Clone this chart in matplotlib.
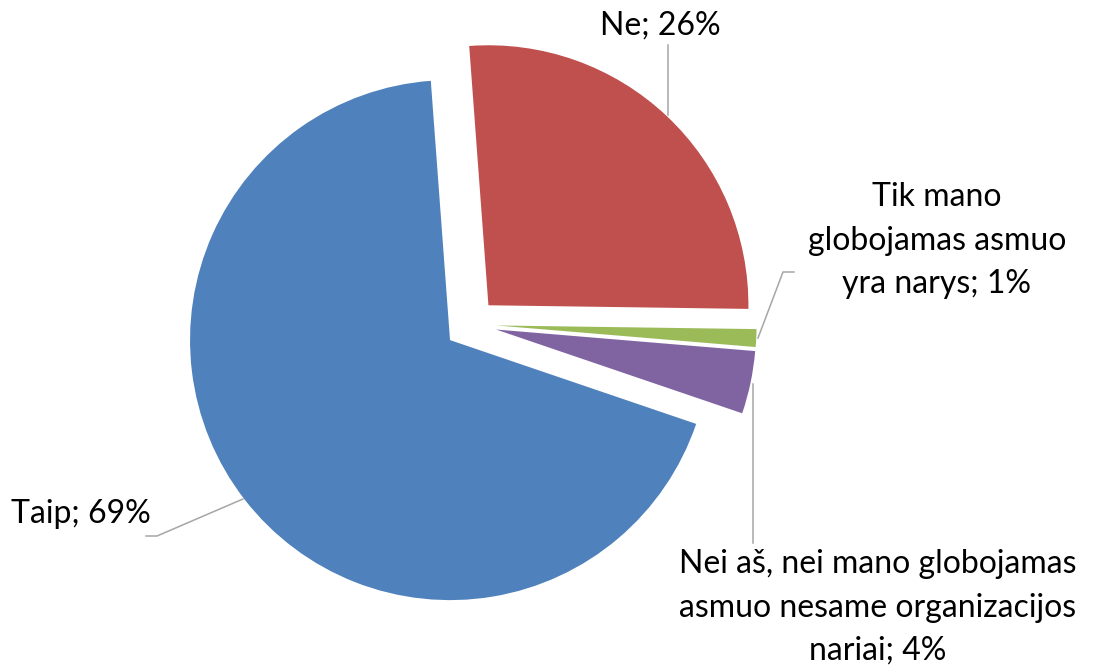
import matplotlib
matplotlib.use("Agg")
import matplotlib.pyplot as plt

# ---- data ----
categories = ["Taip", "Ne", "Tik mano\nglobojamas asmuo\nyra narys", "Nei aš, nei mano globojamas\nasmuo nesame organizacijos\nnariai"]
values = [68.6, 26.4, 1.1, 3.9]
pct_labels = ["69%", "26%", "1%", "4%"]
colors = ["#4F81BD", "#C0504D", "#9BBB59", "#8064A2"]

W, H = 1099, 666
fig = plt.figure(figsize=(W / 100, H / 100), dpi=100)
ax = fig.add_axes([0, 0, 1, 1])

cx, cy = 470.6, H - 324.2
R = 260
ax.pie(values, colors=colors, startangle=-18.8, counterclock=False,
       explode=[0.1 * R] * len(values), center=(cx, cy), radius=R,
       wedgeprops=dict(linewidth=0), frame=True)
ax.set_xlim(0, W)
ax.set_ylim(0, H)
ax.set_aspect("equal")
ax.axis("off")

def py(y):
    return H - y

font = dict(family=["Lato", "DejaVu Sans"], fontsize=23, color="black")
lc = "#A6A6A6"
lw = 1.1

# Taip
ax.plot([243, 157, 146], [py(499), py(536), py(536)], color=lc, lw=lw)
ax.text(81, py(523), f"{categories[0]}; {pct_labels[0]}", ha="center", va="baseline", **font)
# Ne
ax.plot([668, 668], [py(115), py(45)], color=lc, lw=lw)
ax.text(660, py(35), f"{categories[1]}; {pct_labels[1]}", ha="center", va="baseline", **font)
# Tik
ax.plot([758, 783, 794], [py(338), py(272), py(272)], color=lc, lw=lw)
ax.text(937, py(293), f"{categories[2]}; {pct_labels[2]}", ha="center", va="baseline",
        multialignment="center", linespacing=1.56, **font)
# Nei
ax.plot([753, 753], [py(384), py(543)], color=lc, lw=lw)
ax.text(878, py(660), f"{categories[3]}; {pct_labels[3]}", ha="center", va="baseline",
        multialignment="center", linespacing=1.56, **font)

fig.savefig("out.png", dpi=100)
